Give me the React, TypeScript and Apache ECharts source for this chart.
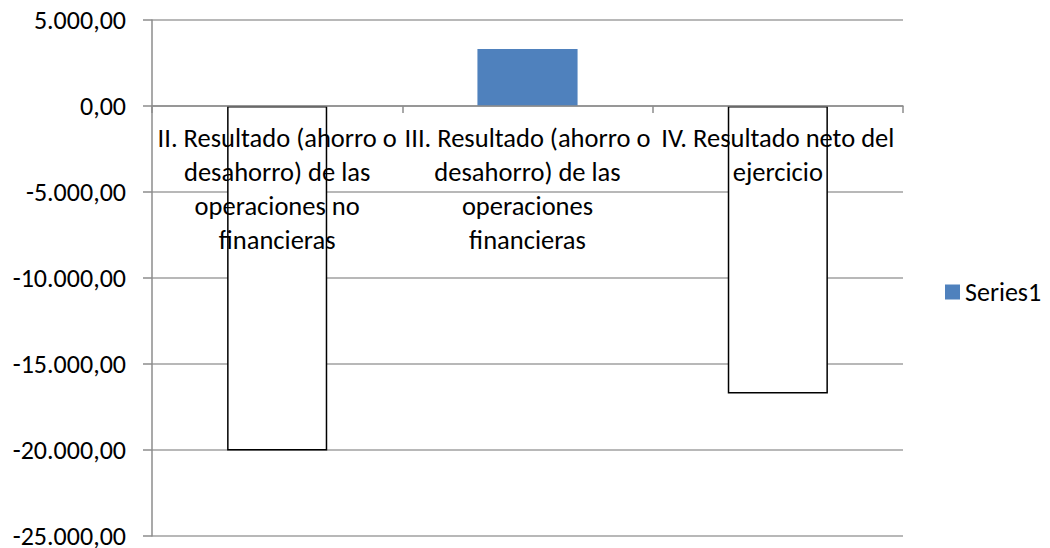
import React, { useEffect, useRef } from "react";
import * as echarts from "echarts";

const categories: string[] = [
  "II. Resultado (ahorro o\ndesahorro) de las\noperaciones no\nfinancieras",
  "III. Resultado (ahorro o\ndesahorro) de las\noperaciones\nfinancieras",
  "IV. Resultado neto del\nejercicio",
];
const seriesName = "Series1";
const values: number[] = [-20030, 3310, -16720];
const yMin = -25000;
const yMax = 5000;
const yInterval = 5000;

const FONT = "Carlito, 'Open Sans', Lato, sans-serif";
const GRID_TOP = 20;
const GRID_BOTTOM = 12;
const CHART_H = 548;

function fmt(v: number): string {
  const neg = v < 0;
  const [i, d] = Math.abs(v).toFixed(2).split(".");
  const withDots = i.replace(/\B(?=(\d{3})+(?!\d))/g, ".");
  return (neg ? "-" : "") + withDots + "," + d;
}

export default function App() {
  const ref = useRef<HTMLDivElement>(null);
  useEffect(() => {
    if (!ref.current) return;
    const chart = echarts.init(ref.current, undefined, { renderer: "svg" });
    // place the category axis (line, ticks, labels) at the value 0 via offset
    const plotH = CHART_H - GRID_TOP - GRID_BOTTOM;
    const zeroFromBottom = ((0 - yMin) / (yMax - yMin)) * plotH;
    chart.setOption({
      animation: false,
      backgroundColor: "#ffffff",
      textStyle: { fontFamily: FONT, color: "#000" },
      grid: {
        left: 152,
        right: 147,
        top: GRID_TOP,
        bottom: GRID_BOTTOM,
        containLabel: false,
        outerBoundsMode: "none",
      },
      legend: {
        show: true,
        orient: "vertical",
        left: 940,
        top: 273,
        itemWidth: 15,
        itemHeight: 15,
        itemGap: 8,
        icon: "rect",
        textStyle: { fontFamily: FONT, fontSize: 26, lineHeight: 28, color: "#000" },
        data: [seriesName],
      },
      xAxis: {
        type: "category",
        data: categories,
        z: 5,
        position: "bottom",
        offset: -zeroFromBottom,
        axisLine: { show: true, onZero: false, lineStyle: { color: "#8c8c8c", width: 1.5 } },
        axisTick: { show: true, alignWithLabel: false, length: 7, lineStyle: { color: "#8c8c8c", width: 1.5 } },
        axisLabel: {
          interval: 0,
          margin: 15,
          color: "#000",
          fontFamily: FONT,
          fontSize: 26.5,
          lineHeight: 34,
          align: "center",
        },
        splitLine: { show: false },
      },
      yAxis: {
        type: "value",
        min: yMin,
        max: yMax,
        interval: yInterval,
        z: 0,
        axisLine: { show: true, lineStyle: { color: "#8c8c8c", width: 1.5 } },
        axisTick: { show: true, length: 9, lineStyle: { color: "#8c8c8c", width: 1.5 } },
        axisLabel: {
          margin: 26,
          color: "#000",
          fontFamily: FONT,
          fontSize: 26,
          lineHeight: 20,
          formatter: (v: number) => fmt(v),
        },
        splitLine: { show: true, lineStyle: { color: "#a0a0a0", width: 1.5 } },
      },
      series: [
        {
          name: seriesName,
          type: "bar",
          z: 2,
          barCategoryGap: "60%",
          itemStyle: { color: "#4f81bd" },
          data: values.map((v) =>
            v < 0
              ? { value: v, itemStyle: { color: "#ffffff", borderColor: "#000000", borderWidth: 1.5 } }
              : { value: v }
          ),
        },
      ],
    });
    return () => chart.dispose();
  }, []);
  return (
    <div
      ref={ref}
      style={{ position: "fixed", left: 0, top: 0, width: 1050, height: 548 }}
    />
  );
}
